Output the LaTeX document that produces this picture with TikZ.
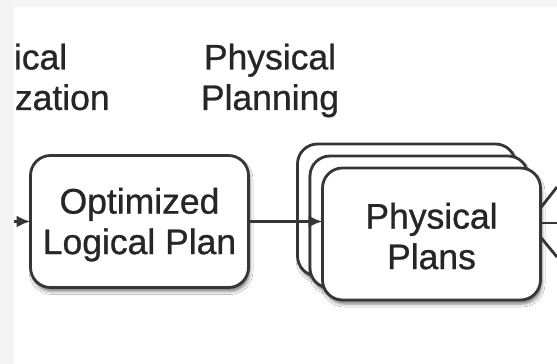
\documentclass[tikz,border=0pt]{standalone}
\usepackage{fontspec}
\setmainfont[FakeBold=0.8]{Liberation Sans}
\usetikzlibrary{arrows.meta,shadows.blur,calc}

\definecolor{edge}{HTML}{363636}
\definecolor{ink}{HTML}{262626}
\definecolor{frame}{HTML}{F4F4F4}

\tikzset{
  label text/.style={text=ink, align=center, inner sep=0pt,
    font=\fontsize{35.5}{40.5}\selectfont},
  planbox/.style={label text, draw=edge, fill=white, line width=2.8pt,
    rounded corners=20pt, minimum width=218pt, minimum height=132pt,
    outer sep=0pt,
    blur shadow={shadow xshift=1.5pt, shadow yshift=-4pt,
      shadow blur radius=3pt, shadow opacity=50}},
  conn/.style={draw=edge, line width=2.8pt},
  flow/.style={conn, -{Latex[length=14pt,width=12pt]}},
}

\begin{document}
\begin{tikzpicture}[x=1pt, y=-1pt]
  \useasboundingbox (0,0) rectangle (557,364);
  \fill[frame] (0,0) rectangle (557,364);
  \fill[white] (14,7) rectangle (557,364);

  \begin{scope}
    \clip (14,7) rectangle (557,364);

    % stage titles
    \node[label text, anchor=north] (logopt) at (11,43.5) {Logical\\Optimization};
    \node[label text, anchor=north] (physplan) at (270,43.5) {Physical\\Planning};

    % optimized logical plan (struts nudge the two lines slightly down)
    \node[planbox] (logical) at (139.5,221.5) {\rule{0pt}{32pt}Optimized\\Logical Plan};

    % stack of physical plans
    \node[planbox] (back)  at (406.5,210) {};
    \node[planbox] (mid)   at (419,222) {};
    \node[planbox] (front) at (431.5,234) {\rule{0pt}{30pt}Physical\\Plans};

    % connectors
    \coordinate (in) at (0,221.5);
    \draw[flow] (in) -- (logical);
    \draw[flow] (logical.east) -- (logical.east -| front.west);

    \coordinate (out1) at (557,187);
    \coordinate (out2) at (557,223);
    \coordinate (out3) at (557,257);
    \draw[conn] ($(front.east)+(0,-26)$) -- (out1);
    \draw[conn] (front.east |- out2) -- (out2);
    \draw[conn] ($(front.east)+(0,3)$) -- (out3);
  \end{scope}
\end{tikzpicture}
\end{document}
